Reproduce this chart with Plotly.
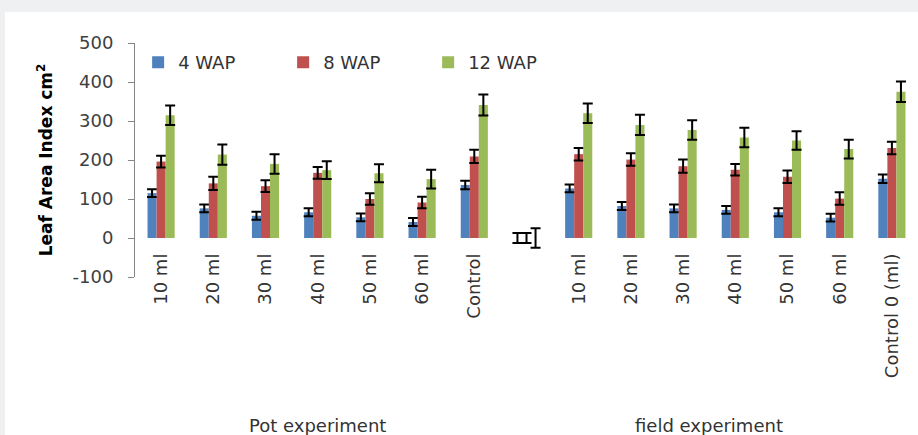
import plotly.graph_objects as go

# ---- data ----
categories = ["10 ml", "20 ml", "30 ml", "40 ml", "50 ml", "60 ml", "Control", "",
              "10 ml", "20 ml", "30 ml", "40 ml", "50 ml", "60 ml", "Control 0 (ml)"]
series_names = ["4 WAP", "8 WAP", "12 WAP"]
wap4 = [115, 76, 57, 66, 53, 41, 136, 0, 127, 82, 76, 72, 66, 52, 152]
wap8 = [196, 140, 133, 167, 100, 91, 209, 0, 215, 201, 184, 175, 157, 101, 231]
wap12 = [315, 214, 190, 174, 166, 151, 341, 0, 320, 290, 277, 258, 250, 228, 375]
err4 = [10, 10, 10, 10, 10, 10, 11, 13, 10, 10, 10, 10, 10, 10, 11]
err8 = [15, 17, 15, 15, 15, 15, 17, 13, 16, 16, 17, 15, 16, 16, 16]
err12 = [25, 26, 25, 23, 23, 24, 27, 25, 25, 26, 25, 25, 24, 24, 26]
group_labels = ["Pot experiment", "field experiment"]
group_centers = [3, 10.5]
y_ticks = [-100, 0, 100, 200, 300, 400, 500]
y_tick_labels = ["-100", "0", "100", "200", "300", "400", "500"]

colors = ["#4F81BD", "#C0504D", "#9BBB59"]
positions = list(range(len(categories)))

fig = go.Figure()
for name, vals, errs, col in zip(series_names, [wap4, wap8, wap12], [err4, err8, err12], colors):
    fig.add_trace(go.Bar(
        x=positions, y=vals, name=name, marker=dict(color=col, line=dict(width=0)),
        error_y=dict(type="data", array=errs, visible=True, color="#000000",
                     thickness=2, width=5),
    ))

# outer gray frame with white card
fig.add_shape(type="rect", xref="paper", yref="paper",
              x0=(5 - 135) / 783, x1=1.2, y0=-1.0, y1=(277 - 12) / 234,
              fillcolor="white", line=dict(width=0), layer="below")

for lab, cx in zip(group_labels, group_centers):
    fig.add_annotation(x=cx, xref="x", y=(277 - 425) / 234, yref="paper",
                       text=lab, showarrow=False, yanchor="middle", xanchor="center",
                       font=dict(family="DejaVu Sans", size=18, color="#333333"))

fig.update_layout(
    width=918, height=435,
    margin=dict(l=135, r=0, t=43, b=158),
    paper_bgcolor="#eef0f2", plot_bgcolor="white",
    barmode="group", bargap=0.48, bargroupgap=0,
    showlegend=True,
    legend=dict(orientation="h", x=0.004, xanchor="left", y=0.995, yanchor="top",
                entrywidth=100, entrywidthmode="pixels", bgcolor="rgba(0,0,0,0)",
                font=dict(family="DejaVu Sans", size=18, color="#333333"),
                traceorder="normal"),
    xaxis=dict(range=[-0.5, len(categories) - 0.5], tickmode="array",
               tickvals=positions, ticktext=categories, tickangle=-90,
               anchor="free", position=100 / 600, showline=False, showgrid=False,
               zeroline=False, ticks="", ticklabelstandoff=11, automargin=False,
               tickfont=dict(family="DejaVu Sans", size=18, color="#333333")),
    yaxis=dict(range=[-100, 500], tickmode="array", tickvals=y_ticks,
               ticktext=y_tick_labels,
               showline=True, linecolor="#868686", linewidth=1,
               ticks="outside", ticklen=6, tickcolor="#868686",
               showgrid=False, zeroline=False, ticklabelstandoff=11, automargin=False,
               tickfont=dict(family="DejaVu Sans", size=18, color="#404040"),
               title=dict(text="<b>Leaf Area Index cm<sup>2</sup></b>", standoff=15,
                          font=dict(family="DejaVu Sans", size=17, color="#000000"))),
)

fig.write_html("out.html", config={"displayModeBar": False},
               post_script="document.body.style.margin='0';"
                           "document.body.style.overflow='hidden';")
